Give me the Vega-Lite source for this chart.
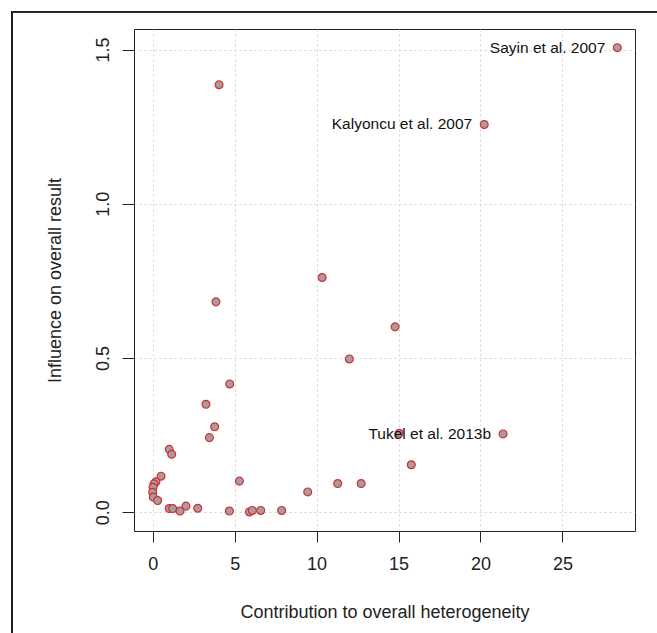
{
  "$schema": "https://vega.github.io/schema/vega-lite/v6.json",
  "width": 501,
  "height": 502,
  "autosize": {"type": "none"},
  "padding": {"left": 134, "top": 29, "right": 22, "bottom": 102},
  "background": "white",
  "config": {
    "font": "Liberation Sans",
    "view": {"stroke": "#222222", "strokeWidth": 1}
  },
  "data": {
    "values": [
      {"contribution": 28.35, "influence": 1.506, "label": "Sayin et al. 2007"},
      {"contribution": 20.23, "influence": 1.257, "label": "Kalyoncu et al. 2007"},
      {"contribution": 4.05, "influence": 1.386, "label": null},
      {"contribution": 10.34, "influence": 0.761, "label": null},
      {"contribution": 14.79, "influence": 0.601, "label": null},
      {"contribution": 3.86, "influence": 0.682, "label": null},
      {"contribution": 12.0, "influence": 0.497, "label": null},
      {"contribution": 4.7, "influence": 0.416, "label": null},
      {"contribution": 3.25, "influence": 0.35, "label": null},
      {"contribution": 3.78, "influence": 0.277, "label": null},
      {"contribution": 3.46, "influence": 0.242, "label": null},
      {"contribution": 21.38, "influence": 0.254, "label": "Tukel et al. 2013b"},
      {"contribution": 15.04, "influence": 0.256, "label": null},
      {"contribution": 15.78, "influence": 0.154, "label": null},
      {"contribution": 11.29, "influence": 0.093, "label": null},
      {"contribution": 12.72, "influence": 0.093, "label": null},
      {"contribution": 9.46, "influence": 0.066, "label": null},
      {"contribution": 5.29, "influence": 0.101, "label": null},
      {"contribution": 1.01, "influence": 0.204, "label": null},
      {"contribution": 1.16, "influence": 0.188, "label": null},
      {"contribution": 0.51, "influence": 0.117, "label": null},
      {"contribution": 0.2, "influence": 0.099, "label": null},
      {"contribution": 0.08, "influence": 0.092, "label": null},
      {"contribution": 0.02, "influence": 0.081, "label": null},
      {"contribution": 0.0, "influence": 0.065, "label": null},
      {"contribution": 0.04, "influence": 0.049, "label": null},
      {"contribution": 0.3, "influence": 0.038, "label": null},
      {"contribution": 1.01, "influence": 0.012, "label": null},
      {"contribution": 1.22, "influence": 0.012, "label": null},
      {"contribution": 1.67, "influence": 0.004, "label": null},
      {"contribution": 2.03, "influence": 0.02, "label": null},
      {"contribution": 2.75, "influence": 0.013, "label": null},
      {"contribution": 4.68, "influence": 0.004, "label": null},
      {"contribution": 5.9, "influence": 0.001, "label": null},
      {"contribution": 6.08, "influence": 0.006, "label": null},
      {"contribution": 6.59, "influence": 0.006, "label": null},
      {"contribution": 7.87, "influence": 0.006, "label": null}
    ]
  },
  "encoding": {
    "x": {
      "field": "contribution",
      "type": "quantitative",
      "scale": {"domain": [-1.14, 29.43], "nice": false, "zero": false},
      "axis": {
        "title": "Contribution to overall heterogeneity",
        "values": [0, 5, 10, 15, 20, 25],
        "grid": true,
        "gridColor": "#d3d3d3",
        "gridDash": [2, 3],
        "gridWidth": 1,
        "domain": false,
        "ticks": true,
        "tickColor": "#222222",
        "tickSize": 11,
        "labelFontSize": 18,
        "labelColor": "#222222",
        "labelPadding": 13,
        "titleFontSize": 18,
        "titleFontWeight": "normal",
        "titleColor": "#222222",
        "titlePadding": 30
      }
    },
    "y": {
      "field": "influence",
      "type": "quantitative",
      "scale": {"domain": [-0.0607, 1.5665], "nice": false, "zero": false},
      "axis": {
        "title": "Influence on overall result",
        "values": [0, 0.5, 1.0, 1.5],
        "format": ".1f",
        "grid": true,
        "gridColor": "#d3d3d3",
        "gridDash": [2, 3],
        "gridWidth": 1,
        "domain": false,
        "ticks": true,
        "tickColor": "#222222",
        "tickSize": 12,
        "labelFontSize": 18,
        "labelColor": "#222222",
        "labelAngle": -90,
        "labelAlign": "center",
        "labelBaseline": "bottom",
        "labelPadding": 10,
        "titleFontSize": 18,
        "titleFontWeight": "normal",
        "titleColor": "#222222",
        "titlePadding": 30
      }
    }
  },
  "layer": [
    {
      "mark": {"type": "circle", "size": 62, "fill": "#a0a0a0", "stroke": "#e0282c", "strokeWidth": 1.2, "opacity": 1}
    },
    {
      "transform": [{"filter": "datum.label != null"}],
      "mark": {"type": "text", "align": "right", "baseline": "middle", "dx": -12, "fontSize": 15.5, "font": "Liberation Sans", "color": "#111111"},
      "encoding": {"text": {"field": "label"}}
    },
    {
      "mark": {"type": "rule", "color": "#222222", "strokeWidth": 1, "clip": false},
      "encoding": {
        "x": {"datum": -8.59},
        "y": {"datum": 1.623},
        "y2": {"datum": -0.5}
      }
    },
    {
      "mark": {"type": "rule", "color": "#222222", "strokeWidth": 1, "clip": false},
      "encoding": {
        "y": {"datum": 1.623},
        "x": {"datum": -8.59},
        "x2": {"datum": 40}
      }
    }
  ]
}
